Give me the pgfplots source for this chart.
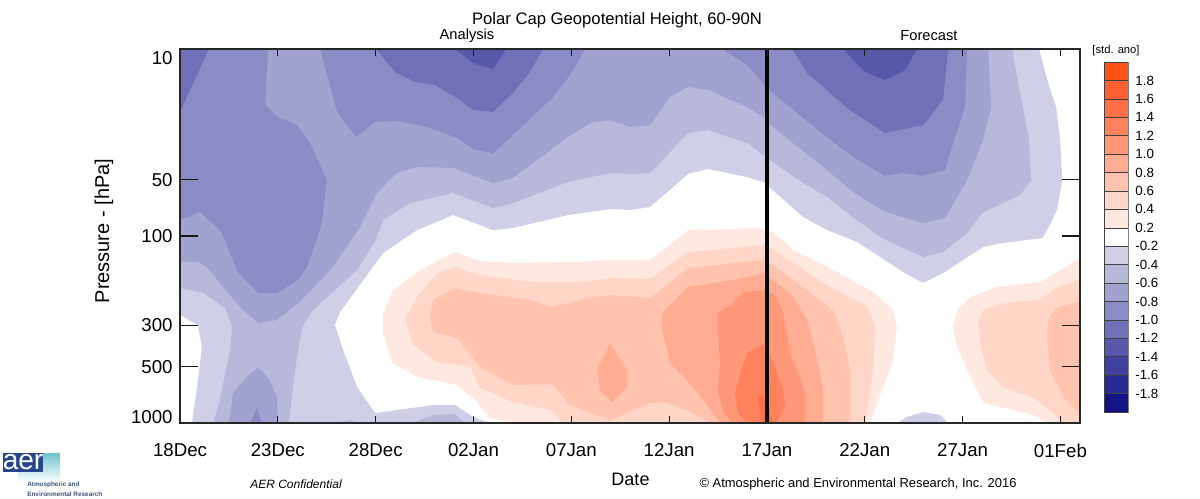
\documentclass[border=0pt]{standalone}
\usepackage{pgfplots}
\pgfplotsset{compat=1.18}
\usepackage{fontspec}
\setmainfont{Liberation Sans}
\definecolor{n1}{RGB}{207,207,231}
\definecolor{n2}{RGB}{184,184,219}
\definecolor{n3}{RGB}{162,162,208}
\definecolor{n4}{RGB}{139,139,197}
\definecolor{n5}{RGB}{112,112,184}
\definecolor{n6}{RGB}{88,88,170}
\definecolor{n7}{RGB}{64,64,158}
\definecolor{n8}{RGB}{42,42,148}
\definecolor{n9}{RGB}{20,20,135}
\definecolor{p1}{RGB}{255,232,224}
\definecolor{p2}{RGB}{255,214,200}
\definecolor{p3}{RGB}{255,195,174}
\definecolor{p4}{RGB}{255,172,146}
\definecolor{p5}{RGB}{255,152,120}
\definecolor{p6}{RGB}{255,130,92}
\definecolor{p7}{RGB}{255,112,70}
\definecolor{p8}{RGB}{255,96,50}
\definecolor{p9}{RGB}{255,82,22}
\definecolor{logoblue}{RGB}{38,70,140}
\definecolor{logoteal}{RGB}{110,195,205}
\definecolor{logotext}{RGB}{60,85,120}
\newcommand\region[2]{\addplot[fill=#1,draw=none,forget plot] coordinates {#2} -- cycle;}
\newcommand\cb[3]{\addplot[fill=#1,draw=black!75,line width=0.4pt,forget plot] coordinates {(0,#2)(1,#2)(1,#3)(0,#3)} -- cycle;}
\begin{document}
\begin{tikzpicture}[x=0.75pt,y=-0.75pt]
\path[use as bounding box] (0,0) rectangle (1200,499);
\begin{axis}[
  at={(135pt,-317.25pt)},anchor=south west,
  scale only axis,width=675pt,height=280.5pt,
  xmin=0,xmax=46,ymin=1,ymax=3,y dir=reverse,
  clip=true,axis on top=true,
  axis line style={line width=1.1pt,black!85},
  xtick={0,5,10,15,20,25,30,35,40,45},
  xticklabels={18Dec,23Dec,28Dec,02Jan,07Jan,12Jan,17Jan,22Jan,27Jan,01Feb},
  ytick=\empty,
  tick style={black!90,line width=0.9pt},
  major tick length=5pt,
  tick label style={font=\fontsize{14}{14}\selectfont},
  xticklabel style={yshift=-12pt},
]
% --- below -0.2
\region{n1}{(0,1)(43.91,1)(44.37,1.182)(44.78,1.310)(44.99,1.487)(45.09,1.701)(44.83,1.861)(44.32,1.968)(44.07,2.011)(42.07,2.037)(41.05,2.059)(39.00,2.198)(37.98,2.251)(36.96,2.193)(35.78,2.112)(34.61,2.032)(33.07,1.968)(31.85,1.898)(30.16,1.743)(30.01,1.717)(28.99,1.685)(26.99,1.642)(25.97,1.668)(24.03,1.845)(23.00,1.861)(21.98,1.856)(19.83,1.888)(17.02,1.957)(16.00,1.968)(13.96,1.888)(12.12,1.968)(10.38,2.091)(8.18,2.407)(7.92,2.476)(8.28,2.594)(9.05,2.808)(9.97,2.947)(12.93,2.904)(14.06,2.904)(14.98,2.968)(15.85,3)(0.61,3)(0.87,2.808)(1.12,2.594)(0.92,2.476)(0,2.423)}
\region{n1}{(36.65,3)(37.16,2.968)(37.98,2.941)(38.85,2.957)(39.26,3)}
% --- below -0.4
\region{n2}{(0,1)(42.53,1)(43.04,1.289)(43.40,1.487)(43.50,1.701)(42.94,1.781)(41.05,1.872)(40.23,1.984)(39.00,2.086)(37.98,2.112)(36.96,2.064)(35.78,2.005)(34.10,1.877)(33.07,1.791)(31.85,1.717)(30.16,1.594)(29.80,1.567)(28.99,1.503)(26.99,1.433)(25.97,1.449)(24.03,1.663)(23.00,1.668)(21.98,1.663)(19.83,1.711)(17.02,1.824)(16.00,1.850)(13.96,1.770)(11.76,1.824)(10.38,1.914)(10.02,2.021)(9.05,2.182)(6.80,2.396)(6.24,2.487)(5.88,2.717)(5.57,3)(1.69,3)(2.04,2.877)(2.56,2.610)(2.66,2.487)(2.30,2.385)(1.18,2.305)(0,2.278)}
\region{n2}{(11.91,3)(12.93,2.957)(14.06,2.952)(14.57,3)}
\region{n2}{(8.03,3)(8.69,2.984)(9.10,3)}
% --- below -0.6
\region{n3}{(0,1)(41.31,1)(41.46,1.310)(41.05,1.487)(40.23,1.701)(39.11,1.904)(37.98,1.931)(36.04,1.872)(34.40,1.765)(33.07,1.647)(30.16,1.406)(29.91,1.369)(28.99,1.310)(26.99,1.219)(25.97,1.203)(25.05,1.257)(24.03,1.406)(23.00,1.417)(21.98,1.380)(20.96,1.396)(19.83,1.471)(17.02,1.690)(16.00,1.717)(13.96,1.636)(12.12,1.631)(11.09,1.663)(10.07,1.770)(9.20,1.952)(7.82,2.166)(6.13,2.353)(4.96,2.449)(3.99,2.465)(3.07,2.380)(2.20,2.273)(1.38,2.166)(0.92,2.139)(0,2.139)}
\region{n3}{(3.99,2.701)(4.60,2.770)(4.96,2.861)(5.01,3)(2.50,3)(2.71,2.840)(3.43,2.754)}
% --- below -0.8
\region{n4}{(0,1)(4.50,1)(4.35,1.299)(5.01,1.364)(5.98,1.406)(6.65,1.503)(7.51,1.701)(7.31,1.877)(7.16,1.968)(6.49,2.166)(6.03,2.235)(4.96,2.305)(3.99,2.305)(2.97,2.193)(2.04,1.968)(1.02,1.872)(0,1.914)}
\region{n4}{(7.16,1)(8.03,1.337)(9.00,1.471)(9.97,1.390)(11.09,1.385)(12.63,1.417)(14.16,1.476)(15.08,1.540)(16.00,1.556)(17.02,1.460)(19.02,1.262)(19.94,1.139)(20.70,1)}
\region{n4}{(27.71,1)(28.99,1.086)(30.01,1.209)(31.85,1.369)(33.07,1.471)(34.40,1.578)(36.04,1.679)(36.96,1.663)(37.98,1.679)(39.11,1.647)(39.52,1.503)(40.13,1.310)(40.23,1)}
\region{n4}{(3.58,3)(3.94,2.920)(4.19,3)}
% --- below -1.0
\region{n5}{(0,1)(1.48,1)(0,1.337)}
\region{n5}{(10.02,1)(10.99,1.123)(12.01,1.176)(13.04,1.193)(14.16,1.262)(14.98,1.326)(16.00,1.337)(17.02,1.235)(17.89,1.123)(18.56,1)}
\region{n5}{(31.29,1)(32.05,1.128)(33.07,1.219)(34.10,1.316)(36.04,1.449)(37.98,1.406)(39.00,1.273)(39.26,1)}
% --- below -1.2
\region{n6}{(14.06,1)(14.98,1.075)(16.00,1.107)(16.67,1)}
\region{n6}{(33.89,1)(35.02,1.123)(36.04,1.166)(37.06,1.112)(37.68,1)}
% --- above 0.2
\region{p1}{(17.02,3)(35.27,3)(35.94,2.808)(36.45,2.663)(36.65,2.487)(36.45,2.396)(35.43,2.300)(33.23,2.171)(31.34,2.075)(30.77,2.021)(30.31,1.979)(29.50,1.957)(27.96,1.963)(25.97,1.968)(25.05,2.048)(24.03,2.128)(21.98,2.128)(20.09,2.139)(17.02,2.144)(15.34,2.134)(14.06,2.086)(12.27,2.182)(10.89,2.289)(10.38,2.412)(10.38,2.519)(10.84,2.679)(12.12,2.754)(14.16,2.797)(15.08,2.877)(15.85,2.973)}
\region{p1}{(39.52,2.487)(39.72,2.396)(40.38,2.326)(41.76,2.273)(43.96,2.246)(44.83,2.193)(46,2.118)(46,3)(44.32,3)(43.61,2.957)(41.05,2.893)(40.23,2.717)(39.72,2.594)}
% --- above 0.4
\region{p2}{(19.58,3)(35.02,3)(35.43,2.717)(35.53,2.487)(35.17,2.380)(33.23,2.273)(31.34,2.144)(30.16,2.064)(29.91,2.048)(25.97,2.086)(24.03,2.230)(21.98,2.225)(20.29,2.246)(17.89,2.246)(15.34,2.209)(14.06,2.166)(13.14,2.198)(12.12,2.326)(11.50,2.439)(11.91,2.583)(13.14,2.674)(14.83,2.701)(15.34,2.813)(17.02,2.888)(18.91,2.931)}
\region{p2}{(40.79,2.465)(41.05,2.396)(42.07,2.358)(43.96,2.342)(44.83,2.273)(46,2.235)(46,3)(45.14,3)(44.63,2.947)(43.61,2.866)(42.07,2.808)(41.25,2.717)(40.90,2.583)}
% --- above 0.6
\region{p3}{(27.09,3)(34.25,3)(34.25,2.717)(33.84,2.519)(33.38,2.396)(31.85,2.273)(30.16,2.144)(29.91,2.128)(25.97,2.171)(24.03,2.332)(21.98,2.316)(20.81,2.332)(19.02,2.380)(17.89,2.342)(15.34,2.305)(14.06,2.278)(12.93,2.342)(12.78,2.433)(12.93,2.513)(14.16,2.546)(15.34,2.701)(17.02,2.797)(19.02,2.792)(19.94,2.904)(21.98,2.984)(24.03,2.893)(24.95,2.893)(26.22,2.947)}
\region{p3}{(44.37,2.449)(44.83,2.380)(45.91,2.353)(46,2.353)(46,2.941)(45.91,2.941)(45.14,2.861)(44.47,2.717)(44.32,2.556)}
% --- above 0.8
\region{p4}{(21.98,2.572)(22.85,2.717)(22.85,2.808)(22.08,2.888)(21.47,2.824)(21.32,2.717)}
\region{p4}{(24.64,2.423)(24.79,2.396)(25.97,2.273)(28.78,2.225)(29.91,2.198)(30.16,2.225)(31.18,2.305)(32.05,2.449)(32.46,2.610)(32.87,2.808)(32.87,3)(27.60,3)(27.25,2.947)(26.22,2.808)(25.05,2.679)(24.64,2.503)}
% --- above 1.0
\region{p5}{(27.50,2.412)(28.27,2.358)(28.78,2.300)(30.01,2.289)(30.52,2.332)(30.83,2.412)(31.18,2.626)(31.95,2.840)(31.95,3)(28.27,3)(27.76,2.947)(27.50,2.824)(27.60,2.679)(27.50,2.503)}
% --- above 1.2
\region{p6}{(28.99,2.626)(29.91,2.572)(30.26,2.663)(30.83,2.824)(30.93,2.915)(30.52,3)(28.99,3)(28.52,2.947)(28.37,2.840)(28.63,2.733)}
% --- above 1.4
\region{p7}{(29.50,2.860)(29.80,2.850)(30.30,3)(29.80,3)}
% analysis / forecast divider
\addplot[black,line width=3.4pt,forget plot] coordinates {(30.01,1)(30.01,3)};
\end{axis}
% pressure ticks: same frame, longer ticks
\begin{axis}[
  at={(135pt,-317.25pt)},anchor=south west,
  scale only axis,width=675pt,height=280.5pt,
  xmin=0,xmax=46,ymin=1,ymax=3,y dir=reverse,
  axis line style={line width=1.1pt,black!85},
  xtick=\empty,
  ytick={1,1.699,2,2.477,2.699,3},
  yticklabels={\raisebox{-11.5pt}[0pt][0pt]{10},50,100,300,500,\raisebox{-0.3pt}[0pt][0pt]{1000}},
  tick style={black!90,line width=0.9pt},
  major tick length=13.5pt,
  tick label style={font=\fontsize{14}{14}\selectfont},
  yticklabel style={xshift=-2pt},
]
\end{axis}
% colour bar
\begin{axis}[
  at={(828pt,-309pt)},anchor=south west,
  scale only axis,width=18pt,height=262.5pt,
  xmin=0,xmax=1,ymin=0,ymax=19,
  xtick=\empty,
  ytick={1,2,3,4,5,6,7,8,9,10,11,12,13,14,15,16,17,18},
  yticklabels={-1.8,-1.6,-1.4,-1.2,-1.0,-0.8,-0.6,-0.4,-0.2,0.2,0.4,0.6,0.8,1.0,1.2,1.4,1.6,1.8},
  yticklabel pos=right,
  major tick length=0pt,
  axis line style={draw=black!45,line width=0.4pt},
  tick label style={font=\fontsize{10}{10}\selectfont},
  yticklabel style={anchor=west,xshift=2pt},
]
\cb{n9}{0}{1}\cb{n8}{1}{2}\cb{n7}{2}{3}\cb{n6}{3}{4}\cb{n5}{4}{5}\cb{n4}{5}{6}\cb{n3}{6}{7}\cb{n2}{7}{8}\cb{n1}{8}{9}\cb{white}{9}{10}
\cb{p1}{10}{11}\cb{p2}{11}{12}\cb{p3}{12}{13}\cb{p4}{13}{14}\cb{p5}{14}{15}\cb{p6}{15}{16}\cb{p7}{16}{17}\cb{p8}{17}{18}\cb{p9}{18}{19}
\end{axis}
% texts
\node[font=\fontsize{12.5}{12}\selectfont] at (617,20.5) {Polar Cap Geopotential Height, 60-90N};
\node[font=\fontsize{11}{10}\selectfont] at (467,36) {Analysis};
\node[font=\fontsize{11}{10}\selectfont] at (929,36) {Forecast};
\node[font=\fontsize{15}{15}\selectfont,rotate=90] at (104,231) {Pressure - [hPa]};
\node[font=\fontsize{13.5}{14}\selectfont] at (630.5,479) {Date};
\node[font=\fontsize{9}{9}\selectfont\itshape] at (296,484) {AER Confidential};
\node[font=\fontsize{9.7}{10}\selectfont] at (858,484) {© Atmospheric and Environmental Research, Inc. 2016};
\node[font=\fontsize{8.4}{8}\selectfont] at (1116,51) {[std. ano]};
% logo
\shade[top color=logoteal,bottom color=white] (18,453) rectangle (60,482);
\fill[logoblue] (3,453) rectangle (43,472);
\node[white,anchor=base,inner sep=0pt,font=\fontsize{21}{21}\selectfont] at (23,469.5) {aer};
\node[anchor=west,inner sep=0pt,logotext,font=\fontsize{4.8}{5}\bfseries\selectfont] at (27,485) {Atmospheric and};
\node[anchor=west,inner sep=0pt,logotext,font=\fontsize{4.8}{5}\bfseries\selectfont] at (27,494) {Environmental Research};
\end{tikzpicture}
\end{document}
